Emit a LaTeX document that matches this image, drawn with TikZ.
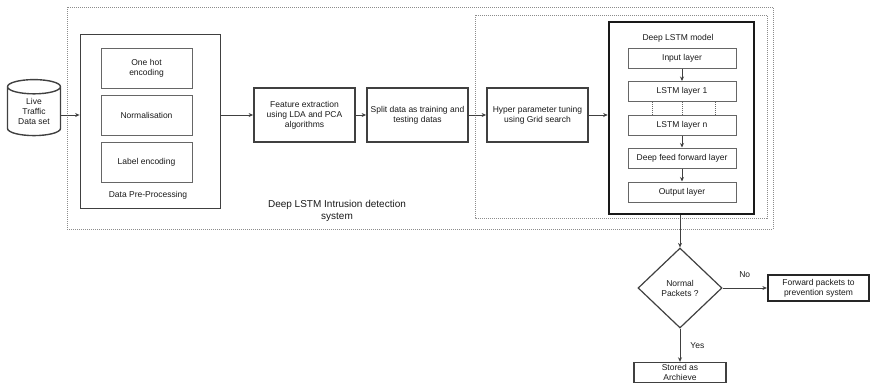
\documentclass[tikz,border=0pt]{standalone}
\usepackage{fontspec}
\setmainfont{Liberation Sans}
\usetikzlibrary{shapes.geometric,arrows.meta,positioning}

\begin{document}
\begin{tikzpicture}[x=1pt,y=-1pt,
    txt/.style={font=\fontsize{8.5}{10}\selectfont,text=black!90,align=center,inner sep=0pt},
    thinbox/.style={txt,draw=black!60,line width=1pt,minimum width=91pt,minimum height=40pt},
    midbox/.style={txt,draw=black!75,line width=1.8pt,minimum width=101pt,minimum height=54pt},
    layerbox/.style={txt,draw=black!60,line width=1pt,minimum width=108pt,minimum height=20pt},
    frame/.style={draw=black!45,line width=0.9pt,dash pattern=on 1pt off 1pt},
    arr/.style={draw=black!75,line width=0.8pt,-{Stealth[length=4.5pt,width=4pt]}}]
    \useasboundingbox (0,0) rectangle (871,384);
    % dotted frames
    \draw[frame] (67,7) rectangle (773,229);
    \draw[frame] (475,15) rectangle (767,218);
    % source
    \node[txt,cylinder,shape border rotate=90,aspect=0.45,draw=black!75,line width=1.4pt,
          minimum width=53pt,minimum height=56pt] (src) at (34,111.5) {Live\\Traffic\\Data set};
    % pre-processing
    \node[txt,draw=black!75,line width=1.8pt,minimum width=140pt,minimum height=174pt] (dpp) at (150.5,121.5) {};
    \node[thinbox] (onehot) at (146.5,68) {One hot\\encoding};
    \node[thinbox] (norm) at (146.5,115) {Normalisation};
    \node[thinbox] (lab) at (146.5,162) {Label encoding};
    \node[txt] (dpplabel) at (148,195) {Data Pre-Processing};
    \node[midbox] (feat) at (304.5,115) {Feature extraction\\using LDA and PCA\\algorithms};
    \node[midbox] (split) at (417.5,115) {Split data as training and\\testing datas};
    \node[midbox] (hyper) at (537.5,115) {Hyper parameter tuning\\using Grid search};
    % model
    \node[txt,draw=black!90,line width=2.6pt,minimum width=145pt,minimum height=192pt] (lstm) at (681.5,118) {};
    \node[txt] (lstmtitle) at (678,38) {Deep LSTM model};
    \node[layerbox] (inp) at (682,58) {Input layer};
    \node[layerbox] (l1) at (682,91.5) {LSTM layer 1};
    \node[layerbox] (ln) at (682,125) {LSTM layer n};
    \node[layerbox] (dff) at (682,158) {Deep feed forward layer};
    \node[layerbox] (outl) at (682,192) {Output layer};
    \node[txt,font=\fontsize{10}{11.5}\selectfont] (sys) at (337,211) {Deep LSTM Intrusion detection\\system};
    % decision
    \node[txt,diamond,draw=black!75,line width=1.2pt,minimum width=84pt,minimum height=80pt] (dia) at (680,288) {Normal\\Packets ?};
    \node[txt,draw=black!85,line width=2.2pt,minimum width=101pt,minimum height=26pt] (fwd) at (818.5,288) {Forward packets to\\prevention system};
    \node[txt,draw=black!75,line width=1.4pt,minimum width=92pt,minimum height=20pt] (st) at (680,372.5) {Stored as\\Archieve};
    % connectors
    \draw[arr] (src.east |- norm) -- (dpp.west |- norm);
    \draw[arr] (dpp.east |- feat) -- (feat);
    \draw[arr] (feat) -- (split);
    \draw[arr] (split) -- (hyper);
    \draw[arr] (hyper) -- (lstm.west |- hyper.east);
    \draw[arr] (inp) -- (l1);
    \draw[arr] (ln) -- (dff);
    \draw[arr] (dff) -- (outl);
    \draw[frame,draw=black!60] ([xshift=25pt]l1.south west) -- ([xshift=25pt]ln.north west);
    \draw[frame,draw=black!60] (l1.south) -- (ln.north);
    \draw[frame,draw=black!60] ([xshift=-21pt]l1.south east) -- ([xshift=-21pt]ln.north east);
    \draw[arr] (dia.north |- lstm.south) -- (dia.north);
    \draw[arr] (dia) -- node[txt,above=10pt] (no) {No} (fwd);
    \draw[arr] (dia) -- node[txt,right=10pt] (yes) {Yes} (st);
\end{tikzpicture}
\end{document}
